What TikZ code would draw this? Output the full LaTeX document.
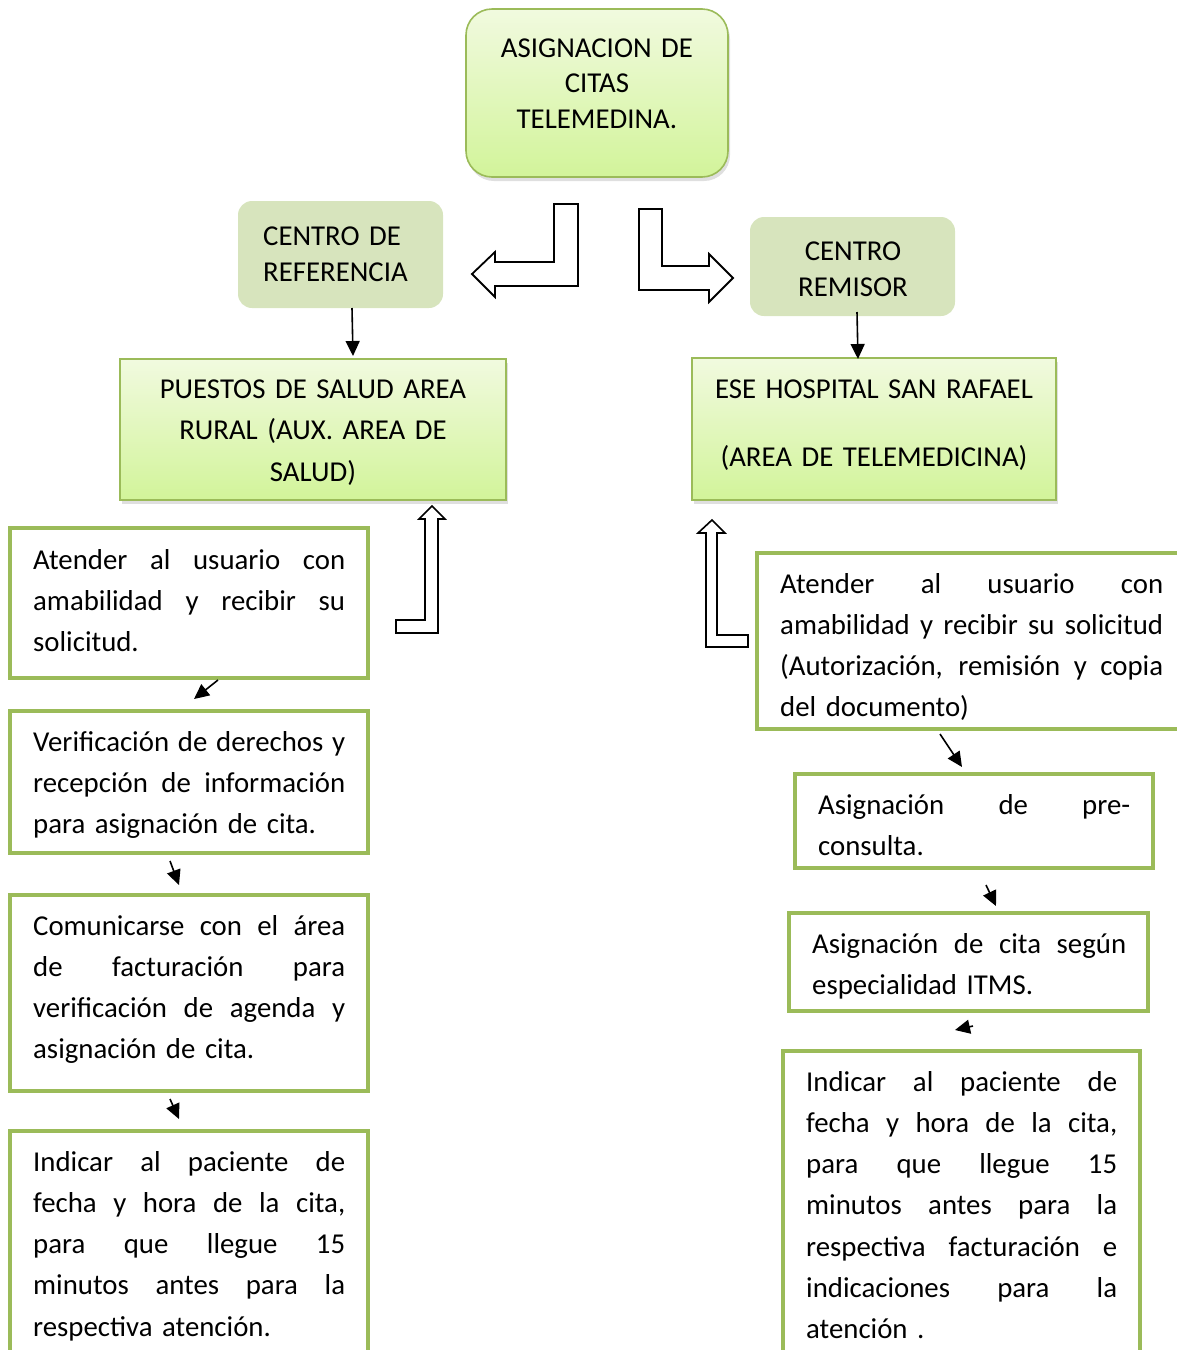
\documentclass[tikz,border=0pt]{standalone}
\usepackage{fontspec}
\setmainfont{Carlito}
\usetikzlibrary{arrows.meta,shadows}
\definecolor{gborder}{HTML}{9BBB59}
\definecolor{gtop}{HTML}{F1FADF}
\definecolor{gbot}{HTML}{D2F49A}
\definecolor{olivefill}{HTML}{D7E4BD}
\newcommand{\jl}[2][312pt]{\leavevmode\hbox to #1{\spaceskip=\fontdimen2\font plus 3em\relax #2}}
\begin{document}
\begin{tikzpicture}[x=1pt,y=-1pt,
  txt/.style={inner sep=0pt, anchor=base west, align=left, font=\fontsize{28.8}{41.3}\selectfont},
  ctxt/.style={inner sep=0pt, anchor=base, align=center, font=\fontsize{28.8}{35.5}\selectfont},
  wbox/.style={draw=gborder, line width=4pt, fill=white, inner sep=0pt, outer sep=0pt},
  gbox/.style={draw=gborder, line width=1.6pt, top color=gtop, bottom color=gbot, inner sep=0pt, outer sep=0pt,
     drop shadow={shadow xshift=2pt, shadow yshift=-4pt, opacity=0.25, fill=gray}},
  obox/.style={fill=olivefill, rounded corners=14pt, inner sep=0pt, outer sep=0pt},
  sarrow/.style={line width=1.6pt, -{Triangle[length=15pt,width=14pt]}},
  barrow/.style={draw=black, line width=1.8pt, fill=white, line join=miter}
]
\useasboundingbox (0,0) rectangle (1176,1350);

% top box
\node (top) [gbox, rounded corners=26pt, minimum width=262pt, minimum height=168pt] at (597,93) {};
\node (toptxt) [ctxt, text width=260pt] at (597,57) {ASIGNACION DE\\CITAS\\TELEMEDINA.};

% centro boxes
\node (ref) [obox, minimum width=205pt, minimum height=107pt] at (340.5,254.5) {};
\node (reftxt) [txt, text width=190pt, font=\fontsize{28.8}{36}\selectfont] at (263,245) {CENTRO DE\\REFERENCIA};
\node (rem) [obox, minimum width=205pt, minimum height=99pt] at (852.5,266.5) {};
\node (remtxt) [ctxt, text width=200pt, font=\fontsize{28.8}{36}\selectfont] at (853,260) {CENTRO\\REMISOR};

% block arrows
\draw[barrow] (578,204) -- (578,286) -- (495,286) -- (495,297) -- (472,274) -- (495,252) -- (495,262) -- (554,262) -- (554,204) -- cycle;
\draw[barrow] (639,209) -- (662,209) -- (662,266) -- (709,266) -- (709,254) -- (733,278) -- (709,302) -- (709,290) -- (639,290) -- cycle;

% puestos / ese
\node (pue) [gbox, minimum width=386pt, minimum height=141pt] at (313,429.5) {};
\node (puetxt) [ctxt, text width=380pt, font=\fontsize{28.8}{41.5}\selectfont] at (313,398) {PUESTOS DE SALUD AREA\\RURAL (AUX. AREA DE\\SALUD)};
\node (ese) [gbox, minimum width=364pt, minimum height=142pt] at (874,429) {};
\node (esetxt1) [ctxt, text width=360pt] at (874,398) {ESE HOSPITAL SAN RAFAEL};
\node (esetxt2) [ctxt, text width=360pt] at (874,466) {(AREA DE TELEMEDICINA)};

\coordinate (a1s) at (352,308);
\coordinate (a1e) at (353,356);
\coordinate (a2s) at (857,312);
\coordinate (a2e) at (858,359);
\draw[sarrow] (a1s) -- (a1e);
\draw[sarrow] (a2s) -- (a2e);

% upward L arrows
\draw[barrow, line width=1.6pt] (396,620) -- (425,620) -- (425,519) -- (419,519) -- (432,506) -- (445,519) -- (438,519) -- (438,633) -- (396,633) -- cycle;
\draw[barrow, line width=1.6pt] (706,533) -- (698,533) -- (712,520) -- (725,533) -- (717,533) -- (717,635) -- (748,635) -- (748,647) -- (706,647) -- cycle;

% left column
\node (l1) [wbox, minimum width=358pt, minimum height=150pt] at (189,603) {};
\node (l1t) [txt, text width=312pt] at (33,569) {\jl{Atender al usuario con}\\\jl{amabilidad y recibir su}\\solicitud.};
\node (l2) [wbox, minimum width=358pt, minimum height=142pt] at (189,782) {};
\node (l2t) [txt, text width=312pt] at (33,751) {\jl{Verificación de derechos y}\\\jl{recepción de información}\\para asignación de cita.};
\node (l3) [wbox, minimum width=358pt, minimum height=196pt] at (189,993) {};
\node (l3t) [txt, text width=312pt] at (33,935) {\jl{Comunicarse con el área}\\\jl{de facturación para}\\\jl{verificación de agenda y}\\asignación de cita.};
\node (l4) [wbox, minimum width=358pt, minimum height=231pt] at (189,1246.5) {};
\node (l4t) [txt, text width=312pt] at (33,1171) {\jl{Indicar al paciente de}\\\jl{fecha y hora de la cita,}\\\jl{para que llegue 15}\\\jl{minutos antes para la}\\respectiva atención.};

% right column
\node (r1) [wbox, minimum width=433pt, minimum height=176pt] at (973.5,641) {};
\begin{scope}
\clip (759,555) rectangle (1176,727);
\node (r1t) [txt, text width=383pt] at (780,593) {\jl[383pt]{Atender al usuario con}\\\jl[383pt]{amabilidad y recibir su solicitud}\\\jl[383pt]{(Autorización, remisión y copia}\\del documento)};
\end{scope}
\draw[gborder, line width=4pt] (757,729) -- (1190,729);
\node (r2) [wbox, minimum width=358pt, minimum height=94pt] at (974,821) {};
\node (r2t) [txt, text width=312pt] at (818,814) {\jl{Asignación de pre-}\\consulta.};
\node (r3) [wbox, minimum width=359pt, minimum height=98pt] at (968.5,962) {};
\node (r3t) [txt, text width=314pt] at (812,953) {\jl[314pt]{Asignación de cita según}\\especialidad ITMS.};
\node (r4) [wbox, minimum width=357pt, minimum height=311pt] at (961.5,1206.5) {};
\node (r4t) [txt, text width=311pt] at (806,1091) {\jl[311pt]{Indicar al paciente de}\\\jl[311pt]{fecha y hora de la cita,}\\\jl[311pt]{para que llegue 15}\\\jl[311pt]{minutos antes para la}\\\jl[311pt]{respectiva facturación e}\\\jl[311pt]{indicaciones para la}\\atención .};

% small arrows between boxes
\coordinate (b1s) at (218,680);
\coordinate (b1e) at (194,699);
\coordinate (b2s) at (170,861);
\coordinate (b2e) at (179,885);
\coordinate (b3s) at (170,1099);
\coordinate (b3e) at (179,1119);
\coordinate (c1s) at (940,734);
\coordinate (c1e) at (962,767);
\coordinate (c2s) at (986,885);
\coordinate (c2e) at (996,906);
\coordinate (c3s) at (973,1026);
\coordinate (c3e) at (955,1030);
\draw[sarrow] (b1s) -- (b1e);
\draw[sarrow] (b2s) -- (b2e);
\draw[sarrow] (b3s) -- (b3e);
\draw[sarrow] (c1s) -- (c1e);
\draw[sarrow] (c2s) -- (c2e);
\draw[sarrow] (c3s) -- (c3e);
\end{tikzpicture}
\end{document}
